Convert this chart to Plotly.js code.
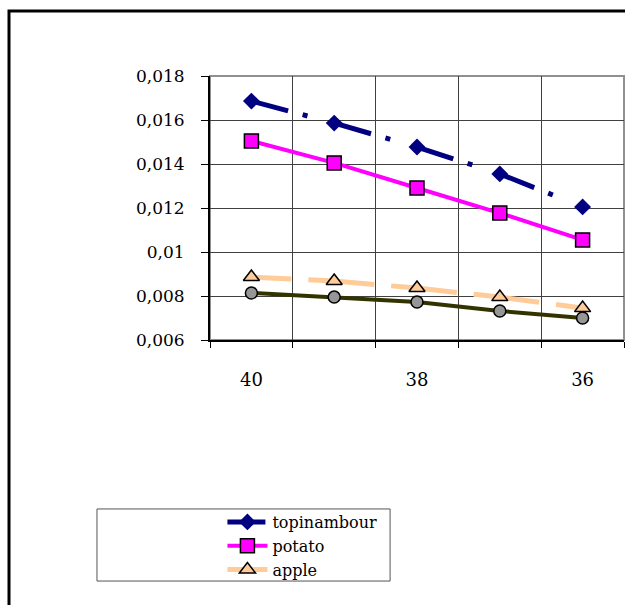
<!DOCTYPE html>
<html>
<head>
<meta charset="utf-8">
<script src="https://cdn.plot.ly/plotly-3.0.1.min.js"></script>
<style>html,body{margin:0;padding:0;background:#fff;}#chart{width:625px;height:605px;}</style>
</head>
<body>
<div id="chart"></div>
<script>
// x categories (reversed axis 40 -> 36)
const xValues = [40, 39, 38, 37, 36];
const topinambour = [0.01686, 0.01586, 0.01477, 0.01355, 0.01205];
const potato = [0.01505, 0.01405, 0.01291, 0.01177, 0.01055];
const apple = [0.00886, 0.00868, 0.00836, 0.00795, 0.00745];
const fourth = [0.00814, 0.00795, 0.00773, 0.00732, 0.00700];
const seriesNames = ["topinambour", "potato", "apple", ""];
const yTickVals = [0.006, 0.008, 0.010, 0.012, 0.014, 0.016, 0.018];
const yTickText = ["0,006", "0,008", "0,01", "0,012", "0,014", "0,016", "0,018"];
const xTickVals = [40, 38, 36];
const xTickText = ["40", "38", "36"];

const font = "DejaVu Serif";

const traces = [
  {
    x: xValues, y: fourth, name: seriesNames[3], showlegend: false,
    type: 'scatter', mode: 'lines+markers',
    line: {color: '#333300', width: 4},
    marker: {symbol: 'circle', size: 12, color: '#969696', line: {color: '#000', width: 1.5}}
  },
  {
    x: xValues, y: apple, name: seriesNames[2],
    type: 'scatter', mode: 'lines+markers',
    line: {color: '#FFCC99', width: 5, dash: '40px,17px,26px,0px'},
    marker: {symbol: 'triangle-up', size: 14, color: '#FFCC99', line: {color: '#000', width: 1.5}}
  },
  {
    x: xValues, y: potato, name: seriesNames[1],
    type: 'scatter', mode: 'lines+markers',
    line: {color: '#FF00FF', width: 4},
    marker: {symbol: 'square', size: 14, color: '#FF00FF', line: {color: '#000', width: 1.5}}
  },
  {
    x: xValues, y: topinambour, name: seriesNames[0],
    type: 'scatter', mode: 'lines+markers',
    line: {color: '#000080', width: 5, dash: '38px,15px,5px,28px'},
    marker: {symbol: 'diamond', size: 13, color: '#000080', line: {color: '#000080', width: 0}}
  }
];

const layout = {
  width: 625, height: 605,
  margin: {l: 210, r: 1, t: 76, b: 265, pad: 0},
  paper_bgcolor: '#fff', plot_bgcolor: '#fff',
  font: {family: font, size: 17, color: '#000'},
  showlegend: true,
  legend: {
    traceorder: 'reversed',
    x: 0.03, y: -0.625, xanchor: 'left', yanchor: 'top',
    bgcolor: 'rgba(0,0,0,0)', borderwidth: 0,
    font: {family: font, size: 16, color: '#000'},
    tracegroupgap: 0, itemwidth: 40
  },
  xaxis: {
    range: [40.5, 35.5], tickmode: 'array', tickvals: xTickVals, ticktext: xTickText,
    ticks: '', showgrid: false, zeroline: false,
    showline: true, linecolor: '#000', linewidth: 2,
    ticklabelstandoff: 22,
    tickfont: {family: font, size: 18, color: '#000'},
    minor: {tickmode: 'linear', tick0: 0.5, dtick: 1, ticks: 'outside', ticklen: 6, tickcolor: '#000', tickwidth: 1,
            showgrid: true, gridcolor: '#404040', gridwidth: 1}
  },
  yaxis: {
    range: [0.006, 0.018], tickmode: 'array', tickvals: yTickVals, ticktext: yTickText,
    ticks: 'outside', ticklen: 7, tickcolor: '#000', tickwidth: 1,
    showgrid: true, gridcolor: '#404040', gridwidth: 1, zeroline: false,
    showline: true, linecolor: '#000', linewidth: 2,
    ticklabelstandoff: 13,
    tickfont: {family: font, size: 17, color: '#000'}
  },
  shapes: [
    {type: 'rect', xref: 'paper', yref: 'paper', x0: 0, x1: 1, y0: 0, y1: 1,
     line: {color: '#909090', width: 2}, layer: 'below'},
    {type: 'rect', xref: 'paper', yref: 'paper', x0: -0.4855, x1: 1.2, y0: -1.1, y1: 1.246,
     line: {color: '#000', width: 3}, layer: 'below'},
    {type: 'rect', xref: 'paper', yref: 'paper', x0: -0.273, x1: 0.435, y0: -0.913, y1: -0.64,
     line: {color: '#555', width: 1}, layer: 'below'}
  ]
};

Plotly.newPlot('chart', traces, layout, {displayModeBar: false, staticPlot: true});
</script>
</body>
</html>
